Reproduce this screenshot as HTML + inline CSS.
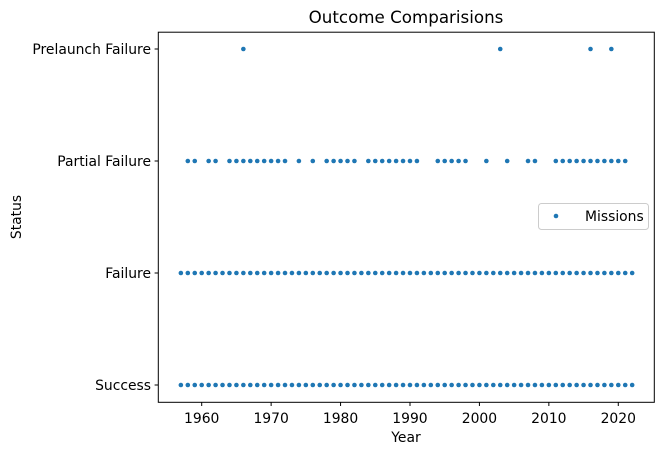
<!DOCTYPE html>
<html><head><meta charset="utf-8"><style>
body{margin:0;background:#fff;}
svg text{font-family:"DejaVu Sans","Liberation Sans",sans-serif;fill:#000;}
</style></head><body>
<svg id="chart" width="664" height="455" xmlns="http://www.w3.org/2000/svg">
<rect width="664" height="455" fill="#fff"/>
<text x="406" y="23" font-size="16.7" text-anchor="middle">Outcome Comparisions</text>
<g id="marks"></g>
<g id="axes"></g>
<rect x="158.3" y="32.2" width="496" height="370.1" fill="none" stroke="#000" stroke-width="1"/>
<text x="406" y="442" font-size="13.9" text-anchor="middle">Year</text>
<text x="21" y="217" font-size="13.9" text-anchor="middle" transform="rotate(-90 21 217)">Status</text>
<g>
<rect x="538.5" y="203.5" width="110" height="26" rx="3" fill="#fff" stroke="#ccc"/>
<circle cx="556" cy="216" r="2.3" fill="#1f77b4"/>
<text x="585" y="221" font-size="13.9">Missions</text>
</g>
</svg>
<script>
const categories = ["Success","Failure","Partial Failure","Prelaunch Failure"];
const xTicks = [1960,1970,1980,1990,2000,2010,2020];
const successYears = [];
for (let y=1957;y<=2022;y++) successYears.push(y);
const failureYears = successYears.slice();
const partialYears = [1958,1959,1961,1962,1964,1965,1966,1967,1968,1969,1970,1971,1972,1974,1976,1978,1979,1980,1981,1982,1984,1985,1986,1987,1988,1989,1990,1991,1994,1995,1996,1997,1998,2001,2004,2007,2008,2011,2012,2013,2014,2015,2016,2017,2018,2019,2020,2021];
const prelaunchYears = [1966,2003,2016,2019];

const xScale = v => 201.7 + (v-1960)*6.943;
const yScale = i => 401.8 - (i+0.15)*112;
const NS="http://www.w3.org/2000/svg";
const marks=document.getElementById('marks'), axes=document.getElementById('axes');
[successYears,failureYears,partialYears,prelaunchYears].forEach((arr,ci)=>{
  arr.forEach(yr=>{
    const c=document.createElementNS(NS,'circle');
    c.setAttribute('cx',xScale(yr));c.setAttribute('cy',yScale(ci));c.setAttribute('r',2.3);c.setAttribute('fill','#1f77b4');
    
    
    marks.appendChild(c);
  });
});
xTicks.forEach(t=>{
  const x=xScale(t);
  const l=document.createElementNS(NS,'line');
  l.setAttribute('x1',x);l.setAttribute('x2',x);l.setAttribute('y1',402.3);l.setAttribute('y2',406);l.setAttribute('stroke','#000');
  
  
  axes.appendChild(l);
  const tx=document.createElementNS(NS,'text');
  tx.setAttribute('x',x);tx.setAttribute('y',423);tx.setAttribute('font-size','13.9');tx.setAttribute('text-anchor','middle');
  tx.textContent=t;
  
  
  axes.appendChild(tx);
});
categories.forEach((c,i)=>{
  const y=yScale(i);
  const l=document.createElementNS(NS,'line');
  l.setAttribute('x1',154.6);l.setAttribute('x2',158.3);l.setAttribute('y1',y);l.setAttribute('y2',y);l.setAttribute('stroke','#000');
  
  
  axes.appendChild(l);
  const tx=document.createElementNS(NS,'text');
  tx.setAttribute('x',151);tx.setAttribute('y',y+5);tx.setAttribute('font-size','13.9');tx.setAttribute('text-anchor','end');
  tx.textContent=c;
  
  
  axes.appendChild(tx);
});
</script>
</body></html>
